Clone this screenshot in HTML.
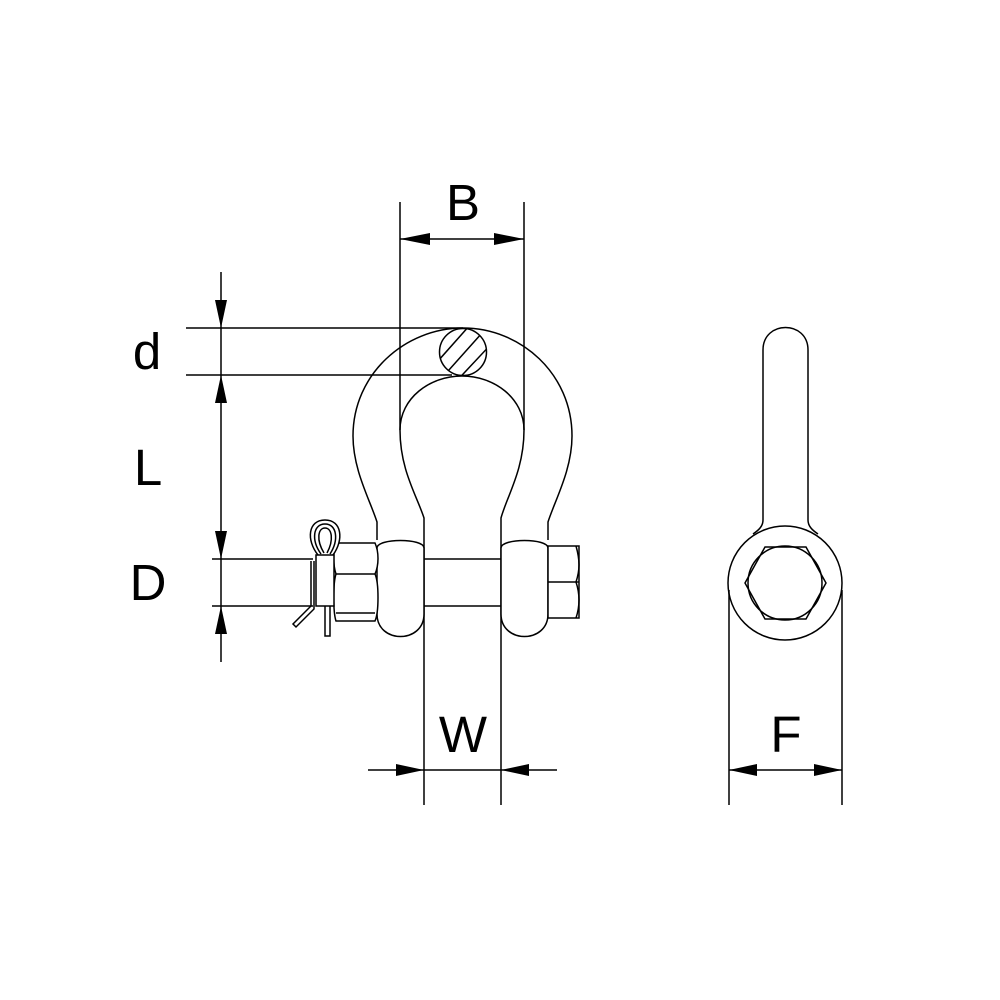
<!DOCTYPE html>
<html><head><meta charset="utf-8"><style>
html,body{margin:0;padding:0;background:#fff}
svg{display:block}
text{font-family:"Liberation Sans",sans-serif;font-size:51px;fill:#000;text-anchor:middle}
</style></head><body>
<svg width="1000" height="1000" viewBox="0 0 1000 1000" xmlns="http://www.w3.org/2000/svg">
<defs>
<clipPath id="dc"><circle cx="463" cy="352" r="23.5"/></clipPath>
</defs>
<g fill="none" stroke="#000" stroke-width="1.5">
<path d="M377 540 L377 522 C370 500 353 470 353 436 C353 374 405 328 463 328 C521 328 572 374 572 436 C572 470 555 500 548 522 L548 540"/>
<path d="M424 805 L424 518 C417 496 400 470 400 430 C400 398 430 376 462 376 C494 376 524 398 524 430 C524 470 507 496 501 518 L501 805"/>
<path d="M377 548 C377 538 424 538 424 548 L424 614 C424 644 377 644 377 614 Z" fill="#fff"/>
<path d="M501 548 C501 538 548 538 548 548 L548 614 C548 644 501 644 501 614 Z" fill="#fff"/>
<line x1="424" y1="559" x2="501" y2="559"/>
<line x1="424" y1="606" x2="501" y2="606"/>
<line x1="212" y1="559" x2="313" y2="559"/>
<line x1="212" y1="606" x2="313" y2="606"/>
<path d="M336 543 L375 543 C379 552 379 565 375 574 C379 583 379 612 375 621 L336 621 C333 612 333 583 336 574 C333 565 333 552 336 543 Z" fill="#fff"/>
<line x1="336" y1="574" x2="375" y2="574"/>
<path d="M336 613 L375 613"/>
<rect x="548" y="546" width="31" height="72" fill="#fff"/>
<path d="M548 582 L579 582"/>
<path d="M576 546 C580 560 580 570 576 582 C580 594 580 606 576 618"/>
<!-- cotter pin -->
<path d="M318 555 C306 540 308 520 325 520 C342 520 344 540 333 555" fill="#fff"/>
<path d="M321 554 C311 540 313 524 325 524 C337 524 339 540 330 554"/>
<path d="M324 553 C316 540 318 528 325 528 C332 528 334 540 327 553"/>
<rect x="316" y="555" width="18" height="51" fill="#fff"/>
<path d="M311 561 L311 606 L293 624 L296 627 L314 609 L314 561"/>
<path d="M325 606 L325 636 L330 636 L330 606"/>
<circle cx="463" cy="352" r="23.5" fill="#fff"/>
<g clip-path="url(#dc)">
<line x1="430" y1="370" x2="470" y2="325"/>
<line x1="440" y1="380" x2="482" y2="333"/>
<line x1="450" y1="388" x2="495" y2="340"/>
</g>
<!-- right view -->
<path d="M763 520 L763 350 C763 320 808 320 808 350 L808 520 C808 526 812 530 818 534"/>
<path d="M763 520 C763 526 759 530 753 534"/>
<circle cx="785" cy="583" r="57"/>
<line x1="729" y1="590" x2="729" y2="805"/>
<line x1="842" y1="590" x2="842" y2="805"/>
<polygon points="765,547 806,547 826,583 806,619 765,619 745,583"/>
<circle cx="785" cy="583" r="37"/>
<line x1="400" y1="202" x2="400" y2="430"/>
<line x1="524" y1="202" x2="524" y2="430"/>
<line x1="400" y1="239" x2="524" y2="239"/>
<line x1="186" y1="328" x2="463" y2="328"/>
<line x1="186" y1="375" x2="452" y2="375"/>
<line x1="221" y1="272" x2="221" y2="662"/>
<line x1="368" y1="770" x2="557" y2="770"/>
<line x1="729" y1="770" x2="842" y2="770"/>
</g>
<g fill="#000">
<polygon points="400,239 430,233 430,245"/>
<polygon points="524,239 494,233 494,245"/>
<polygon points="221,328 215,300 227,300"/>
<polygon points="221,375 215,403 227,403"/>
<polygon points="221,559 215,531 227,531"/>
<polygon points="221,606 215,634 227,634"/>
<polygon points="424,770 396,764 396,776"/>
<polygon points="501,770 529,764 529,776"/>
<polygon points="729,770 757,764 757,776"/>
<polygon points="842,770 814,764 814,776"/>
</g>
<text x="463" y="220">B</text>
<text x="147" y="369">d</text>
<text x="148" y="485">L</text>
<text x="148" y="600">D</text>
<text x="463" y="752">W</text>
<text x="786" y="752">F</text>
</svg>
</body></html>
